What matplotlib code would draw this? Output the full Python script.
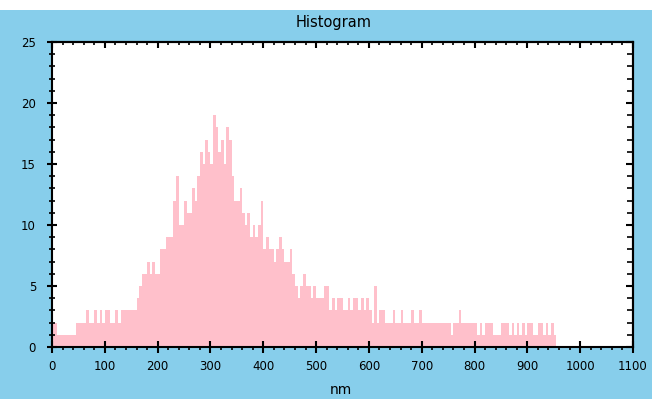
import numpy as np
import matplotlib.pyplot as plt
from matplotlib.patches import Rectangle

# histogram counts, 5 nm bins starting at 0 nm
BIN_WIDTH = 5
counts = [
    2, 2, 1, 1, 1, 1, 1, 1, 1, 2,        # 0-50
    2, 2, 2, 3, 2, 2, 3, 2, 3, 2,        # 50-100
    3, 3, 2, 2, 3, 2, 3, 3, 3, 3,        # 100-150
    3, 3, 4, 5, 6, 6, 7, 6, 7, 6,        # 150-200
    6, 8, 8, 9, 9, 9, 12, 14, 10, 10,    # 200-250
    12, 11, 11, 13, 12, 14, 16, 15, 17, 16,  # 250-300
    15, 19, 18, 16, 17, 15, 18, 17, 14, 12,  # 300-350
    12, 13, 11, 10, 11, 9, 10, 9, 10, 12,    # 350-400
    8, 9, 8, 8, 7, 8, 9, 8, 7, 7,        # 400-450
    8, 6, 5, 4, 5, 6, 5, 5, 4, 5,        # 450-500
    4, 4, 4, 5, 5, 3, 4, 3, 4, 4,        # 500-550
    3, 3, 4, 3, 4, 4, 3, 4, 3, 4,        # 550-600
    3, 2, 5, 2, 3, 3, 2, 2, 2, 3,        # 600-650
    2, 2, 3, 2, 2, 2, 3, 2, 2, 3,        # 650-700
    2, 2, 2, 2, 2, 2, 2, 2, 2, 2,        # 700-750
    2, 1, 2, 2, 3, 2, 2, 2, 2, 2,        # 750-800
    2, 1, 2, 1, 2, 2, 2, 1, 1, 1,        # 800-850
    2, 2, 2, 1, 2, 1, 2, 1, 2, 1,        # 850-900
    2, 2, 1, 1, 2, 2, 1, 2, 1, 2, 1,     # 900-955
]

x_ticks = np.arange(0, 1101, 100)
y_ticks = np.arange(0, 26, 5)

edges = np.arange(len(counts) + 1) * BIN_WIDTH

W, H = 652, 399
fig = plt.figure(figsize=(W / 100, H / 100), dpi=100)
fig.patch.set_facecolor('white')
# sky blue panel below a thin white strip
fig.patches.append(Rectangle((0, 0), 1, 1 - 10 / H, transform=fig.transFigure,
                             facecolor='#87CEEB', edgecolor='none', zorder=-10))

ax = fig.add_axes([52 / W, 1 - 347 / H, (633 - 52) / W, (347 - 42) / H])
ax.set_facecolor('white')

ax.stairs(counts, edges, fill=True, color='pink', linewidth=0)

ax.set_xlim(0, 1100)
ax.set_ylim(0, 25)
ax.set_xticks(x_ticks)
ax.set_yticks(y_ticks)
ax.set_xticks(np.arange(0, 1101, 20), minor=True)
ax.set_yticks(np.arange(0, 26, 1), minor=True)

for s in ax.spines.values():
    s.set_linewidth(1.5)
    s.set_color('black')

ax.tick_params(axis='both', which='both', top=True, right=True, colors='black')
ax.tick_params(axis='x', which='major', bottom=True, direction='inout', length=8, width=1.5,
               labelsize=8.5, pad=5)
ax.tick_params(axis='x', which='minor', direction='out', length=2.5, width=1.2)
ax.tick_params(axis='y', which='major', direction='inout', length=7, width=1.5,
               labelsize=8.5, pad=8)
ax.tick_params(axis='y', which='minor', direction='inout', length=4, width=1.2)

# top and right axes get inward ticks
ax2 = ax.secondary_xaxis('top')
ax2.set_xticks(x_ticks, labels=[])
ax2.set_xticks(np.arange(0, 1101, 20), minor=True)
ax2.tick_params(which='major', direction='in', length=4.5, width=1.5)
ax2.tick_params(which='minor', direction='in', length=2.5, width=1.2)
ax3 = ax.secondary_yaxis('right')
ax3.set_yticks(y_ticks, labels=[])
ax3.set_yticks(np.arange(0, 26, 1), minor=True)
ax3.tick_params(which='major', direction='in', length=5, width=1.5)
ax3.tick_params(which='minor', direction='in', length=4, width=1.2)
for a in (ax2, ax3):
    for s in a.spines.values():
        s.set_linewidth(1.5)
ax.tick_params(top=False, right=False, which='both')

fig.text(334 / W, 1 - 22 / H, 'Histogram', ha='center', va='center', fontsize=10.5)
fig.text(341 / W, 1 - 390 / H, 'nm', ha='center', va='center', fontsize=10)

fig.savefig('out.png', dpi=100, facecolor=fig.get_facecolor())
